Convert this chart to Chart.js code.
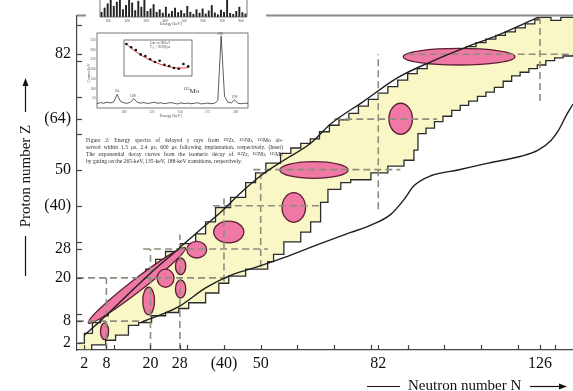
<!DOCTYPE html>
<html>
<head>
<meta charset="utf-8">
<script src="https://cdn.jsdelivr.net/npm/chart.js@4.4.0/dist/chart.umd.min.js"></script>
<style>
  html, body { margin: 0; padding: 0; background: #fff; }
  #wrap { position: relative; width: 573px; height: 391px; overflow: hidden; }
  canvas { position: absolute; }
  #main { left: 0; top: 0; }
  #insetBg { position: absolute; left: 86px; top: 0; width: 180px; height: 124px; background: #fff; }
  #hist { left: 95px; top: 0; }
  #spec { left: 86px; top: 28px; }
  #decay { left: 120px; top: 36px; }
  .tiny { position: absolute; font-family: "Liberation Serif", serif; color: #444; white-space: nowrap; }
  #caption { position: absolute; left: 86px; top: 137px; width: 197px; font-family: "Liberation Serif", serif;
             font-size: 5.6px; line-height: 7px; color: #333; }
  #caption div { text-align: justify; text-align-last: justify; white-space: nowrap; }
  #caption div.last { text-align-last: left; }
</style>
</head>
<body>
<div id="wrap">
  <canvas id="main" width="573" height="391"></canvas>
  <div id="insetBg"></div>
  <canvas id="hist" width="158" height="24"></canvas>
  <canvas id="spec" width="180" height="96"></canvas>
  <canvas id="decay" width="76" height="44"></canvas>
  <div class="tiny" style="left:160px;top:21px;font-size:4px;">Energy [keV]</div>
  <div class="tiny" style="left:160px;top:113px;font-size:4px;">Energy [keV]</div>
  <div class="tiny" style="left:183px;top:86px;font-size:7px;color:#333;"><sup style="font-size:4.5px">115</sup>Mo</div>
  <div id="caption">
    <div>Figure 2: Energy spectra of delayed γ rays from ¹¹²Zr, ¹¹⁵Nb, ¹¹⁵Mo ob-</div>
    <div>served within 1.5 μs, 2.4 μs, 600 μs following implantation, respectively. (Inset)</div>
    <div>The exponential decay curves from the isomeric decay of ¹¹²Zr, ¹¹⁵Nb, ¹¹⁵Mo</div>
    <div class="last">by gating on the 265-keV, 135-keV, 188-keV transitions, respectively.</div>
  </div>
</div>
<script>
// ---- main chart data: (N, Z) ----
var bandUpperN = [0.4, 2, 4.2, 6.4, 8.5, 10.5, 12.6, 14.6, 16.7, 18.7, 21.4, 24.1, 28.2, 32.3, 35, 37.7, 41.8, 45.9, 48.6, 51.4, 55.4, 58.2,
                  60.9, 63.5, 66, 68.7, 71.3, 74, 76.6, 79.3, 82, 84.6, 87.3, 90, 92.6, 95.3, 98, 100.6, 103.3, 106, 108.6, 111.3, 114,
                  116.6, 119.3, 122, 124.6, 125.5, 129, 131.7, 135];
var bandUpperZ = [1.9, 4.6, 7.6, 9.5, 11.5, 13.6, 15.6, 17.7, 20, 22.4, 25.1, 27.3, 29.5, 32.2, 35.5, 39.5, 42.3, 46.4, 49.1, 51.8, 54.5, 56,
                  57.3, 58.5, 60.5, 62.3, 63.8, 65.6, 67.6, 69.5, 71.2, 73, 74.8, 76.6, 78, 79.4, 80.6, 81.8, 83, 84.1, 85.2, 86.2, 87.2,
                  88.2, 89.3, 90.4, 91.5, 92.2, 91.4, 92.2, 92.2];
var bandLowerN = [0.4, 4.0, 7.8, 10.5, 14.0, 16.8, 20.3, 24.1, 27.7, 30.4, 35.0, 38.6, 41.3, 45.9, 51.9, 53.5, 56.3, 60.9, 63.6, 66.3, 68.3,
                  71.8, 74.5, 80.0, 84.6, 89.0, 91.7, 92.8, 95, 97.3, 99.6, 102, 104.3, 106.6, 109, 111.3, 113.6, 116, 118.3, 120.6, 123,
                  125.3, 127.6, 130, 132.3, 135];
var bandLowerZ = [0, 1.4, 2.7, 4.1, 6.8, 7.6, 9.5, 10.4, 11.5, 13.1, 15.8, 18.5, 20.5, 22.4, 24.5, 26.5, 30, 32.7, 35.5, 40.9, 44.5,
                  46.4, 47.2, 49.1, 51, 52.6, 55.4, 60, 61.5, 63.3, 64.8, 66.4, 67.8, 69, 70.3, 71.5, 72.8, 74.5, 76, 77, 78,
                  79, 80.2, 81, 81.5, 81.8];

var curveUpN = [2, 5.9, 14, 20, 26.8, 33.7, 39.1, 44.6, 50, 56.3, 63.6, 69.1, 78.1, 87.3, 96.3, 105.3, 114.6, 125.5];
var curveUpZ = [4.1, 7.6, 15.5, 21.3, 27.3, 33.5, 38.2, 43.6, 48.3, 52.6, 57.3, 62.7, 69, 75.5, 79.9, 83.7, 87.3, 92.2];
var curveLowN = [17.3, 27.7, 35, 41.3, 48.6, 56.3, 65.5, 74.5, 80, 85.4, 89, 91.7, 96.3, 103.7, 111.9, 120.8, 125.5, 129, 131, 133.1, 135];
var curveLowZ = [7.6, 12, 17.2, 20.5, 22.9, 25.6, 29.2, 32.6, 34.6, 37.6, 41.7, 45.5, 48.3, 49.9, 51.8, 53.7, 55.4, 58.1, 60.8, 64.9, 68.2];

// magic number guide lines
var vLineN = [8, 20, 28, 40, 50, 82, 126];
var vLineFrom = [0, 0, 0, 19, 23, 39, 69];
var vLineTo = [20, 28, 32, 42, 50, 82, 92.2];
var hLineZ = [8, 20, 28, 40, 50, 64, 82];
var hLineFrom = [0, 0, 18, 37, 48, 70, 90];
var hLineTo = [19, 42, 52, 66, 88, 98, 135];

// pink regions: centre (N, Z), half axes, tilt in degrees
var ellN = [7.5, 16.3, 19.5, 24.1, 28.2, 28.2, 32.6, 41.3, 59, 64.5, 88.1, 104];
var ellZ = [5.2, 17.9, 13.6, 19.9, 23.2, 16.9, 27.8, 32.7, 39.5, 49.9, 64.1, 81.3];
var ellA = [1.1, 16.7, 1.6, 2.3, 1.4, 1.4, 2.7, 4.1, 3.2, 9.3, 3.2, 15.2];
var ellB = [2.3, 1.7, 3.8, 2.5, 2.3, 2.5, 2.3, 3.0, 4.1, 2.3, 4.3, 2.3];
var ellRot = [0, 37.8, 0, 0, 0, 0, 0, 0, 0, 0, 0, 0];

var xTicks = [2, 8, 10, 20, 28, 30, 40, 50, 60, 70, 80, 82, 90, 100, 110, 120, 126, 130];
var yTicks = [2, 8, 10, 20, 28, 30, 40, 50, 60, 64, 70, 80, 82, 90];
var xLabelVals = [2, 8, 20, 28, 40, 50, 82, 126];
var xLabelText = ['2', '8', '20', '28', '(40)', '50', '82', '126'];
var yLabelVals = [2, 8, 20, 28, 40, 50, 64, 82];
var yLabelText = ['2', '8', '20', '28', '(40)', '50', '(64)', '82'];

// ---- inset spectrum data ----
var specE = [76, 79, 82, 85, 88, 91, 94, 97, 100, 103, 106, 109, 112, 115, 118, 121, 124, 127, 130, 133, 136, 139, 142, 145, 148, 151, 154, 157, 160, 163, 166, 169, 172, 175, 178, 181, 184, 187, 190, 193, 196, 199, 202, 205, 208, 211];
var specCounts = [22, 28, 24, 30, 26, 32, 70, 34, 27, 24, 30, 48, 29, 25, 28, 23, 26, 30, 24, 27, 22, 25, 28, 24, 21, 26, 23, 25, 22, 24, 27, 21, 23, 25, 22, 24, 38, 370, 60, 30, 26, 42, 24, 22, 25, 23];
var histVals = [30, 55, 80, 100, 65, 90, 100, 45, 70, 100, 85, 40, 95, 60, 100, 35, 50, 75, 30, 45, 25, 60, 20, 35, 55, 28, 40, 22, 65, 30, 18, 45, 25, 50, 20, 38, 70, 26, 15, 42, 30, 100, 24, 18, 35, 60, 28, 20];
var decayT = [0, 1, 2, 3, 4, 5, 6, 7, 8, 9, 10, 11, 12, 13];
var decayPts = [1.0, 0.92, 0.85, 0.74, 0.70, 0.62, 0.55, 0.58, 0.48, 0.45, 0.40, 0.38, 0.50, 0.44];
var decayFit = [1.0, 0.9, 0.81, 0.73, 0.66, 0.6, 0.55, 0.5, 0.46, 0.43, 0.41, 0.4, 0.4, 0.41];

function pts(xs, ys) {
    return xs.map(function(v, i) { return {x: v, y: ys[i]}; });
}

var datasets = [];
datasets.push({ data: pts(bandUpperN, bandUpperZ), stepped: 'before', borderColor: '#2b2b2b', borderWidth: 1.3,
                backgroundColor: '#faf7c6', fill: {target: 1}, pointRadius: 0, order: 10 });
datasets.push({ data: pts(bandLowerN, bandLowerZ), stepped: 'before', borderColor: '#2b2b2b', borderWidth: 1.3,
                fill: false, pointRadius: 0, order: 9 });
vLineN.forEach(function(n, i) {
    datasets.push({ data: [{x: n, y: vLineFrom[i]}, {x: n, y: vLineTo[i]}], borderColor: '#8d8d80',
                    borderWidth: 1.6, borderDash: [7, 4], pointRadius: 0, fill: false, order: 5 });
});
hLineZ.forEach(function(z, i) {
    datasets.push({ data: [{x: hLineFrom[i], y: z}, {x: hLineTo[i], y: z}], borderColor: '#8d8d80',
                    borderWidth: 1.6, borderDash: [7, 4], pointRadius: 0, fill: false, order: 5 });
});
datasets.push({ data: pts(curveUpN, curveUpZ), borderColor: '#1e1e1e', borderWidth: 1.4, cubicInterpolationMode: 'monotone',
                pointRadius: 0, fill: false, order: 1 });
datasets.push({ data: pts(curveLowN, curveLowZ), borderColor: '#1e1e1e', borderWidth: 1.4, cubicInterpolationMode: 'monotone',
                pointRadius: 0, fill: false, order: 1 });

// pink ellipses go right after the band outline
var ellipsePlugin = {
    id: 'ellipses',
    afterDatasetDraw: function(chart, args) {
        if (args.index !== 1) return;
        var ctx = chart.ctx, x = chart.scales.x, y = chart.scales.y;
        var ux = x.getPixelForValue(1) - x.getPixelForValue(0);
        var uy = y.getPixelForValue(0) - y.getPixelForValue(1);
        ctx.save();
        ctx.fillStyle = '#ef78a4';
        ctx.strokeStyle = '#5a1f33';
        ctx.lineWidth = 1.3;
        for (var i = 0; i < ellN.length; i++) {
            ctx.beginPath();
            ctx.ellipse(x.getPixelForValue(ellN[i]), y.getPixelForValue(ellZ[i]), ellA[i] * ux, ellB[i] * uy,
                        -ellRot[i] * Math.PI / 180, 0, 2 * Math.PI);
            ctx.fill();
            ctx.stroke();
        }
        ctx.restore();
    }
};

function arrowHead(ctx, x, y, dir) {
    ctx.beginPath();
    if (dir === 'up') { ctx.moveTo(x, y); ctx.lineTo(x - 3, y + 8); ctx.lineTo(x + 3, y + 8); }
    else { ctx.moveTo(x, y); ctx.lineTo(x - 8, y - 3); ctx.lineTo(x - 8, y + 3); }
    ctx.closePath();
    ctx.fill();
}

var decorPlugin = {
    id: 'decor',
    afterDraw: function(chart) {
        var ctx = chart.ctx, a = chart.chartArea, x = chart.scales.x, y = chart.scales.y;
        ctx.save();
        // frame top
        ctx.strokeStyle = '#8a8a8a';
        ctx.lineWidth = 2;
        ctx.beginPath(); ctx.moveTo(a.left, a.top); ctx.lineTo(a.right, a.top); ctx.stroke();
        // inward ticks
        ctx.strokeStyle = '#444';
        ctx.lineWidth = 1.2;
        xTicks.forEach(function(v) {
            var px = Math.round(x.getPixelForValue(v)) + 0.5;
            ctx.beginPath(); ctx.moveTo(px, a.bottom); ctx.lineTo(px, a.bottom - 5); ctx.stroke();
        });
        yTicks.forEach(function(v) {
            var py = Math.round(y.getPixelForValue(v)) + 0.5;
            ctx.beginPath(); ctx.moveTo(a.left, py); ctx.lineTo(a.left + 5, py); ctx.stroke();
        });
        // axis titles with arrows
        ctx.fillStyle = '#111';
        ctx.strokeStyle = '#111';
        ctx.lineWidth = 1.2;
        ctx.font = '15px "Liberation Serif"';
        ctx.save();
        ctx.translate(30, 176);
        ctx.rotate(-Math.PI / 2);
        ctx.textAlign = 'center';
        ctx.fillText('Proton number Z', 0, 0);
        ctx.restore();
        ctx.beginPath(); ctx.moveTo(25.5, 236); ctx.lineTo(25.5, 276); ctx.stroke();
        ctx.beginPath(); ctx.moveTo(25.5, 112); ctx.lineTo(25.5, 84); ctx.stroke();
        arrowHead(ctx, 25.5, 78, 'up');
        ctx.textAlign = 'left';
        ctx.fillText('Neutron number N', 408, 390);
        ctx.beginPath(); ctx.moveTo(367, 386.5); ctx.lineTo(400, 386.5); ctx.stroke();
        ctx.beginPath(); ctx.moveTo(530, 386.5); ctx.lineTo(561, 386.5); ctx.stroke();
        arrowHead(ctx, 567, 386.5, 'right');
        ctx.restore();
    }
};

new Chart(document.getElementById('main'), {
    type: 'line',
    data: { datasets: datasets },
    options: {
        responsive: false,
        animation: false,
        layout: { padding: { top: 10, left: 0, right: 0, bottom: 0 } },
        plugins: { legend: { display: false }, tooltip: { enabled: false },
                   filler: { propagate: false, drawTime: 'beforeDatasetsDraw' } },
        scales: {
            x: {
                type: 'linear', min: 0, max: 135,
                afterFit: function(s) { s.height = 41; },
                afterBuildTicks: function(s) { s.ticks = xTicks.map(function(v) { return {value: v}; }); },
                grid: { display: false, drawTicks: false },
                border: { display: true, color: '#444', width: 1.2 },
                ticks: {
                    autoSkip: false, maxRotation: 0, padding: 4, color: '#111',
                    font: { family: 'Liberation Serif', size: 16 },
                    callback: function(v) { var i = xLabelVals.indexOf(v); return i >= 0 ? xLabelText[i] : ''; }
                }
            },
            y: {
                type: 'linear', min: 0, max: 92.7,
                afterFit: function(s) { s.width = 77; },
                afterBuildTicks: function(s) { s.ticks = yTicks.map(function(v) { return {value: v}; }); },
                grid: { display: false, drawTicks: false },
                border: { display: true, color: '#444', width: 1.2 },
                ticks: {
                    autoSkip: false, padding: 6, color: '#111',
                    font: { family: 'Liberation Serif', size: 16 },
                    callback: function(v) { var i = yLabelVals.indexOf(v); return i >= 0 ? yLabelText[i] : ''; }
                }
            }
        }
    },
    plugins: [ellipsePlugin, decorPlugin]
});

// ---- inset: top histogram ----
var frameOpen = {
    id: 'frameOpen',
    afterDraw: function(chart) {
        var ctx = chart.ctx, a = chart.chartArea;
        ctx.save();
        ctx.strokeStyle = '#555'; ctx.lineWidth = 0.8;
        ctx.beginPath();
        ctx.moveTo(a.left, a.top); ctx.lineTo(a.left, a.bottom); ctx.lineTo(a.right, a.bottom); ctx.lineTo(a.right, a.top);
        ctx.stroke();
        ctx.fillStyle = '#555';
        ctx.font = '3.5px "Liberation Serif"';
        ctx.textAlign = 'center';
        for (var k = 0; k < 8; k++) {
            ctx.fillText(String((k + 1) * 100), a.left + 8 + k * 19, a.bottom + 4.5);
        }
        ctx.restore();
    }
};
new Chart(document.getElementById('hist'), {
    type: 'bar',
    data: { labels: histVals.map(function(v, i) { return i; }),
            datasets: [{ data: histVals, backgroundColor: '#222', barPercentage: 0.9, categoryPercentage: 0.7 }] },
    options: {
        responsive: false, animation: false,
        layout: { padding: { left: 5, right: 6, top: 0, bottom: 7 } },
        plugins: { legend: { display: false }, tooltip: { enabled: false } },
        scales: { x: { display: false }, y: { display: false, min: 0, max: 100 } }
    },
    plugins: [frameOpen]
});

// ---- inset: spectrum ----
var specFrame = {
    id: 'specFrame',
    afterDraw: function(chart) {
        var ctx = chart.ctx, a = chart.chartArea, x = chart.scales.x, y = chart.scales.y;
        ctx.save();
        ctx.strokeStyle = '#555'; ctx.lineWidth = 0.8;
        ctx.strokeRect(a.left, a.top, a.right - a.left, a.bottom - a.top);
        ctx.fillStyle = '#555';
        ctx.font = '3.5px "Liberation Serif"';
        ctx.textAlign = 'right';
        [50, 100, 150, 200, 250, 300, 350].forEach(function(v) {
            ctx.fillText(String(v), a.left - 1.5, y.getPixelForValue(v) + 1.2);
        });
        ctx.textAlign = 'center';
        [100, 125, 150, 175, 200].forEach(function(v) {
            ctx.fillText(String(v), x.getPixelForValue(v), a.bottom + 4.5);
        });
        ctx.font = '4px "Liberation Serif"';
        ctx.fillText('94', x.getPixelForValue(94), y.getPixelForValue(70) - 2);
        ctx.fillText('108', x.getPixelForValue(108), y.getPixelForValue(48) - 2);
        ctx.fillText('188', x.getPixelForValue(186), y.getPixelForValue(370) - 1);
        ctx.fillText('198', x.getPixelForValue(199), y.getPixelForValue(42) - 2);
        ctx.save();
        ctx.translate(4, 45); ctx.rotate(-Math.PI / 2);
        ctx.fillText('Counts/keV', 0, 0);
        ctx.restore();
        ctx.restore();
    }
};
new Chart(document.getElementById('spec'), {
    type: 'line',
    data: { datasets: [{ data: pts(specE, specCounts), borderColor: '#333', borderWidth: 0.8, pointRadius: 0, fill: false }] },
    options: {
        responsive: false, animation: false,
        layout: { padding: { left: 11, right: 18, top: 5, bottom: 16 } },
        plugins: { legend: { display: false }, tooltip: { enabled: false } },
        scales: { x: { type: 'linear', display: false, min: 76, max: 211 }, y: { display: false, min: 0, max: 385 } }
    },
    plugins: [specFrame]
});

// ---- inset: decay curve ----
var decayFrame = {
    id: 'decayFrame',
    beforeDraw: function(chart) {
        var ctx = chart.ctx, a = chart.chartArea;
        ctx.save(); ctx.fillStyle = '#fff'; ctx.fillRect(a.left, a.top, a.right - a.left, a.bottom - a.top); ctx.restore();
    },
    afterDraw: function(chart) {
        var ctx = chart.ctx, a = chart.chartArea;
        ctx.save();
        ctx.strokeStyle = '#555'; ctx.lineWidth = 0.8;
        ctx.strokeRect(a.left, a.top, a.right - a.left, a.bottom - a.top);
        ctx.fillStyle = '#444';
        ctx.font = '3px "Liberation Serif"';
        ctx.fillText('Gate on 188 keV', a.left + 26, a.top + 4);
        ctx.fillText('T\u2081/\u2082 = 99.9(8) \u03bcs', a.left + 26, a.top + 8);
        ctx.restore();
    }
};
new Chart(document.getElementById('decay'), {
    type: 'line',
    data: { datasets: [
        { data: pts(decayT, decayPts), showLine: false, pointRadius: 1.3, pointBackgroundColor: '#111', pointBorderWidth: 0 },
        { data: pts(decayT, decayFit), borderColor: '#e0403a', borderWidth: 1, pointRadius: 0, tension: 0.4, fill: false }
    ] },
    options: {
        responsive: false, animation: false,
        layout: { padding: { left: 2, right: 3, top: 1, bottom: 2 } },
        plugins: { legend: { display: false }, tooltip: { enabled: false } },
        scales: { x: { type: 'linear', display: false, min: -0.5, max: 13.8 }, y: { display: false, min: 0.2, max: 1.1 } }
    },
    plugins: [decayFrame]
});
</script>
</body>
</html>
